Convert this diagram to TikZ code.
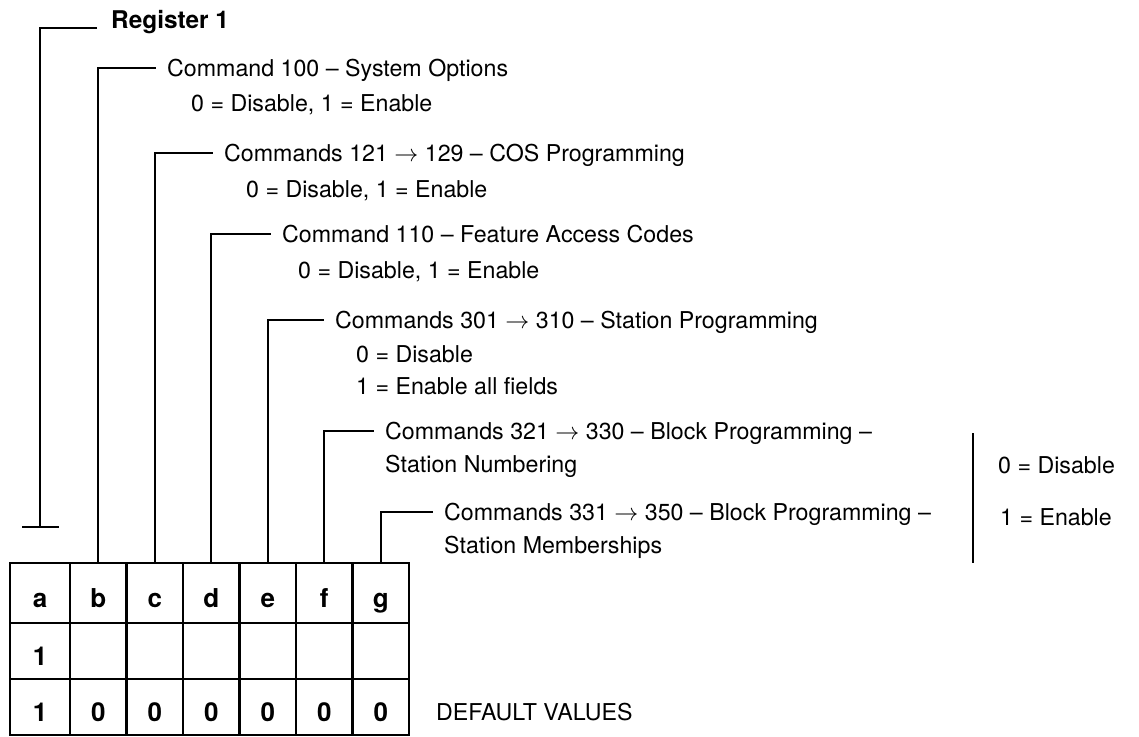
\documentclass[tikz,border=0pt]{standalone}
\usepackage{fontspec}
\setmainfont{TeX Gyre Heros}
\usetikzlibrary{arrows.meta}
\begin{document}
\begin{tikzpicture}[x=0.5pt,y=-0.5pt,line width=1.2pt]
 	\def \rowoneht{593}
 	\def \rowtwoht{651}
 	\def \rowthreeht{707}
 	\def \rarr{$\rightarrow$}
 	\tikzstyle{cell}=[rectangle,draw=black,line width=1.4pt,inner sep=0pt,minimum width=28.25pt,minimum height=28pt,text height=14pt,text depth=0pt,font=\fontsize{13}{15}\selectfont\bfseries]
 	\tikzstyle{first-col}=[minimum width=30pt]
 	\tikzstyle{top-row}=[minimum height=30pt]
 	\tikzstyle{cmd-text}=[anchor=west,inner xsep=5pt,inner ysep=0pt,text height=8.5pt,text depth=0pt,font=\fontsize{11.6}{14}\selectfont]
 	\tikzstyle{opt-text}=[anchor=base west,inner sep=0pt,font=\fontsize{11.6}{14}\selectfont]
 	\tikzstyle{reg-text}=[anchor=base west,inner xsep=6.5pt,inner ysep=0pt,font=\fontsize{12.2}{14}\selectfont\bfseries]
 	\useasboundingbox (0,0) rectangle (1139,736);
 	% register table
 	\node[cell,first-col,top-row] (ca) at (40,\rowoneht) {a};
 	\node[cell,top-row] (cb) at (98.25,\rowoneht) {b};
 	\node[cell,top-row] (cc) at (154.75,\rowoneht) {c};
 	\node[cell,top-row] (cd) at (211.25,\rowoneht) {d};
 	\node[cell,top-row] (ce) at (267.75,\rowoneht) {e};
 	\node[cell,top-row] (cf) at (324.25,\rowoneht) {f};
 	\node[cell,top-row] (cg) at (380.75,\rowoneht) {g};
 	\node[cell,first-col] (ma) at (40,\rowtwoht) {1};
 	\node[cell] (mb) at (98.25,\rowtwoht) {};
 	\node[cell] (mc) at (154.75,\rowtwoht) {};
 	\node[cell] (md) at (211.25,\rowtwoht) {};
 	\node[cell] (me) at (267.75,\rowtwoht) {};
 	\node[cell] (mf) at (324.25,\rowtwoht) {};
 	\node[cell] (mg) at (380.75,\rowtwoht) {};
 	\node[cell,first-col] (da) at (40,\rowthreeht) {1};
 	\node[cell] (db) at (98.25,\rowthreeht) {0};
 	\node[cell] (dc) at (154.75,\rowthreeht) {0};
 	\node[cell] (dd) at (211.25,\rowthreeht) {0};
 	\node[cell] (de) at (267.75,\rowthreeht) {0};
 	\node[cell] (df) at (324.25,\rowthreeht) {0};
 	\node[cell] (dg) at (380.75,\rowthreeht) {0};
 	\node[opt-text] (defaults) at (435,720) {DEFAULT VALUES};
 	% labels
 	\node[reg-text] (treg) at (97,28) {Register 1};
 	\node[cmd-text] (tb) at (156,68) {Command 100 -- System Options};
 	\node[opt-text] (sb) at (190,111) {0 = Disable, 1 = Enable};
 	\node[cmd-text] (tc) at (213,153) {Commands 121 \rarr{} 129 -- COS Programming};
 	\node[opt-text] (sc) at (245,197) {0 = Disable, 1 = Enable};
 	\node[cmd-text] (td) at (271,234) {Command 110 -- Feature Access Codes};
 	\node[opt-text] (sd) at (297,278) {0 = Disable, 1 = Enable};
 	\node[cmd-text] (te) at (324,320) {Commands 301 \rarr{} 310 -- Station Programming};
 	\node[opt-text] (se0) at (355,362) {0 = Disable};
 	\node[opt-text] (se1) at (355,394) {1 = Enable all fields};
 	\node[cmd-text] (tf) at (374,431) {Commands 321 \rarr{} 330 -- Block Programming --};
 	\node[opt-text] (sf) at (384,472) {Station Numbering};
 	\node[cmd-text] (tg) at (433,512) {Commands 331 \rarr{} 350 -- Block Programming --};
 	\node[opt-text] (sg) at (443,553) {Station Memberships};
 	\node[opt-text] (zero) at (997,473) {0 = Disable};
 	\node[opt-text] (one) at (999,525) {1 = Enable};
 	\coordinate (a-end) at (40,528);
 	\coordinate (brace-top) at (973,433);
 	\coordinate (brace-bot) at (973,563);
 	% connectors
 	\draw[-{Bar[width=18.5pt]}] (treg.base west) -| (a-end);
 	\draw (cb.north) |- (tb.west);
 	\draw (cc.north) |- (tc.west);
 	\draw (cd.north) |- (td.west);
 	\draw (ce.north) |- (te.west);
 	\draw (cf.north) |- (tf.west);
 	\draw (cg.north) |- (tg.west);
 	\draw (brace-top) -- (brace-bot);
\end{tikzpicture}
\end{document}
